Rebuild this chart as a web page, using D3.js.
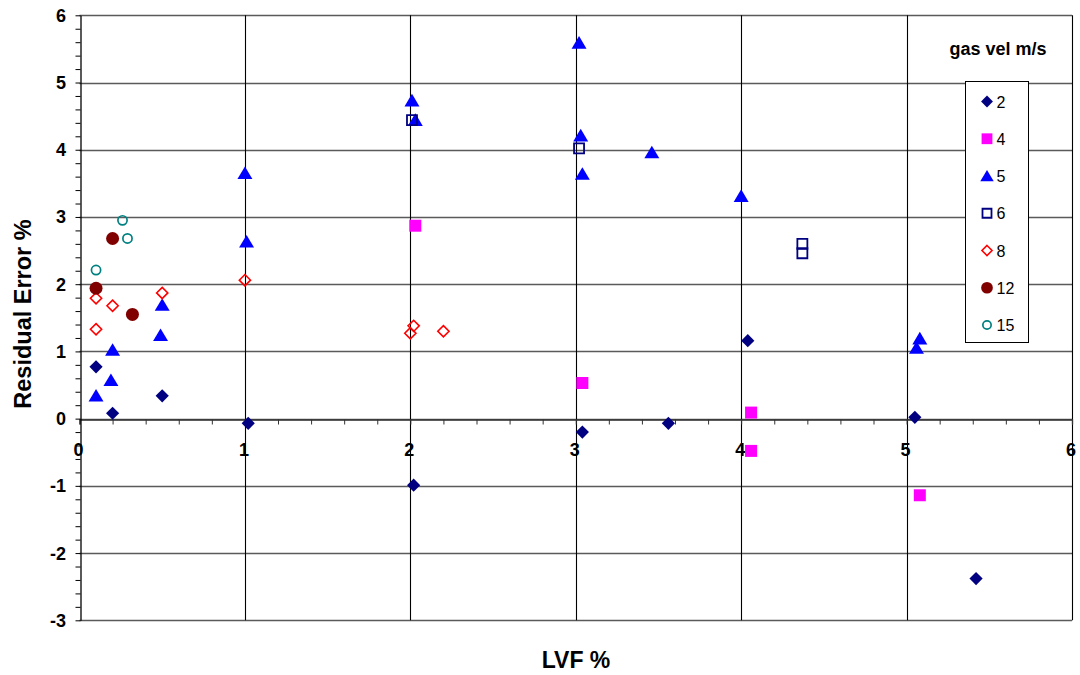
<!DOCTYPE html>
<html>
<head>
<meta charset="utf-8">
<script src="https://cdn.jsdelivr.net/npm/d3@7"></script>
<style>
  html, body { margin: 0; padding: 0; background: #fff; }
  svg { display: block; font-family: "Liberation Sans", Arial, sans-serif; }
</style>
</head>
<body>
<svg id="chart" width="1080" height="675"></svg>
<script>
// Residual error (%) against liquid volume fraction, one series per gas velocity
const seriesNames = ["2", "4", "5", "6", "8", "12", "15"];

const lvf2 = [0.1, 0.2, 0.5, 1.02, 2.02, 3.04, 3.56, 4.04, 5.05, 5.42];
const err2 = [0.77, 0.08, 0.34, -0.07, -0.99, -0.2, -0.07, 1.16, 0.02, -2.38];

const lvf4 = [2.03, 3.04, 4.06, 4.06, 5.08];
const err4 = [2.87, 0.53, 0.09, -0.48, -1.14];

const lvf5 = [0.1, 0.19, 0.2, 0.49, 0.5, 1.01, 1.0, 2.01, 2.03, 3.02, 3.03, 3.04, 3.46, 4.0, 5.06, 5.08];
const err5 = [0.34, 0.57, 1.02, 1.24, 1.69, 2.63, 3.65, 4.73, 4.44, 5.59, 4.21, 3.64, 3.96, 3.31, 1.05, 1.19];

const lvf6 = [2.01, 3.02, 4.37, 4.37];
const err6 = [4.44, 4.02, 2.6, 2.46];

const lvf8 = [0.1, 0.1, 0.2, 0.5, 1.0, 2.0, 2.02, 2.2];
const err8 = [1.79, 1.33, 1.68, 1.87, 2.06, 1.27, 1.38, 1.3];

const lvf12 = [0.1, 0.2, 0.32];
const err12 = [1.94, 2.68, 1.55];

const lvf15 = [0.1, 0.26, 0.29];
const err15 = [2.21, 2.95, 2.68];

const xTicks = [0, 1, 2, 3, 4, 5, 6];
const yTicks = [-3, -2, -1, 0, 1, 2, 3, 4, 5, 6];

const xTitle = "LVF %";
const yTitle = "Residual Error %";
const legendTitle = "gas vel m/s";

// marker shapes
const shapes = {
  diamond: r => `M0,${-r}L${r},0L0,${r}L${-r},0Z`,
  square: r => `M${-r},${-r}H${r}V${r}H${-r}Z`,
  triangle: r => `M0,${-r}L${r * 1.1},${r * 0.85}L${-r * 1.1},${r * 0.85}Z`,
  circle: r => `M${r},0A${r},${r} 0 1,1 ${-r},0A${r},${r} 0 1,1 ${r},0Z`
};

const styles = [
  { shape: "diamond", r: 6.6, fill: "#000080", stroke: "none", sw: 0 },
  { shape: "square", r: 6, fill: "#FF00FF", stroke: "none", sw: 0 },
  { shape: "triangle", r: 6.8, fill: "#0000FF", stroke: "none", sw: 0 },
  { shape: "square", r: 5, fill: "none", stroke: "#000080", sw: 1.8 },
  { shape: "diamond", r: 5.6, fill: "none", stroke: "#FF0000", sw: 1.6 },
  { shape: "circle", r: 6.5, fill: "#800000", stroke: "none", sw: 0 },
  { shape: "circle", r: 4.6, fill: "none", stroke: "#008080", sw: 1.7 }
];

const seriesX = [lvf2, lvf4, lvf5, lvf6, lvf8, lvf12, lvf15];
const seriesY = [err2, err4, err5, err6, err8, err12, err15];

const svg = d3.select("#chart");

const x = d3.scaleLinear().domain([0, 6]).range([79.5, 1072]);
const y = d3.scaleLinear().domain([-3, 6]).range([620.3, 15.3]);

// horizontal gridlines
svg.append("g")
  .selectAll("line")
  .data(yTicks)
  .join("line")
  .attr("x1", x(0)).attr("x2", x(6))
  .attr("y1", d => Math.round(y(d)) + 0.5).attr("y2", d => Math.round(y(d)) + 0.5)
  .attr("stroke", "#5a5a5a").attr("stroke-width", 1.3);

// vertical gridlines
svg.append("g")
  .selectAll("line")
  .data(xTicks.filter(d => d > 0))
  .join("line")
  .attr("x1", d => Math.round(x(d)) + 0.5).attr("x2", d => Math.round(x(d)) + 0.5)
  .attr("y1", y(6)).attr("y2", y(-3))
  .attr("stroke", "#000").attr("stroke-width", 1.1);

// x axis along zero, minor ticks below
const xAxis = d3.axisBottom(x)
  .tickValues(d3.range(0, 6.0001, 0.2))
  .tickSize(5)
  .tickFormat("");
svg.append("g")
  .attr("transform", `translate(0,${Math.round(y(0)) + 0.5})`)
  .call(xAxis)
  .call(g => g.select(".domain").attr("stroke", "#333").attr("stroke-width", 1.3))
  .call(g => g.selectAll(".tick line").attr("stroke", "#333"));

// y axis with minor ticks on the left
const yAxis = d3.axisLeft(y)
  .tickValues(d3.range(-3, 6.0001, 0.2))
  .tickSize(5)
  .tickSizeOuter(0)
  .tickFormat("");
svg.append("g")
  .attr("transform", `translate(${Math.round(x(0)) + 0.5},0)`)
  .call(yAxis)
  .call(g => g.select(".domain").attr("stroke", "#000").attr("stroke-width", 1.3))
  .call(g => g.selectAll(".tick line").attr("stroke", "#000"));

// tick labels
svg.append("g")
  .selectAll("text")
  .data(yTicks)
  .join("text")
  .attr("x", 66)
  .attr("y", d => y(d) + 6.5)
  .attr("text-anchor", "end")
  .attr("font-size", 18).attr("font-weight", "bold")
  .text(d => d);

svg.append("g")
  .selectAll("text")
  .data(xTicks)
  .join("text")
  .attr("x", d => x(d) - 1)
  .attr("y", y(0) + 37)
  .attr("text-anchor", "middle")
  .attr("font-size", 18).attr("font-weight", "bold")
  .text(d => d);

// axis titles
svg.append("text")
  .attr("x", 576).attr("y", 668)
  .attr("text-anchor", "middle")
  .attr("font-size", 23).attr("font-weight", "bold")
  .text(xTitle);

svg.append("text")
  .attr("transform", "translate(31,314) rotate(-90)")
  .attr("text-anchor", "middle")
  .attr("font-size", 23.5).attr("font-weight", "bold")
  .text(yTitle);

// points
seriesNames.forEach((name, i) => {
  const st = styles[i];
  const pts = seriesX[i].map((v, j) => [v, seriesY[i][j]]);
  svg.append("g")
    .selectAll("path")
    .data(pts)
    .join("path")
    .attr("transform", d => `translate(${x(d[0])},${y(d[1])})`)
    .attr("d", shapes[st.shape](st.r))
    .attr("fill", st.fill)
    .attr("stroke", st.stroke)
    .attr("stroke-width", st.sw);
});

// legend
svg.append("text")
  .attr("x", 998).attr("y", 55)
  .attr("text-anchor", "middle")
  .attr("font-size", 18).attr("font-weight", "bold")
  .text(legendTitle);

const legend = svg.append("g");
legend.append("rect")
  .attr("x", 965.5).attr("y", 81.5)
  .attr("width", 63).attr("height", 261)
  .attr("fill", "#fff").attr("stroke", "#000").attr("stroke-width", 1);

const rowY = d3.scaleLinear().domain([0, 6]).range([101.5, 325]);
seriesNames.forEach((name, i) => {
  const st = styles[i];
  const yy = rowY(i);
  legend.append("path")
    .attr("transform", `translate(987,${yy})`)
    .attr("d", shapes[st.shape](st.r * 0.9))
    .attr("fill", st.fill)
    .attr("stroke", st.stroke)
    .attr("stroke-width", st.sw);
  legend.append("text")
    .attr("x", 996.5).attr("y", yy + 6)
    .attr("font-size", 16)
    .text(name);
});
</script>
</body>
</html>
